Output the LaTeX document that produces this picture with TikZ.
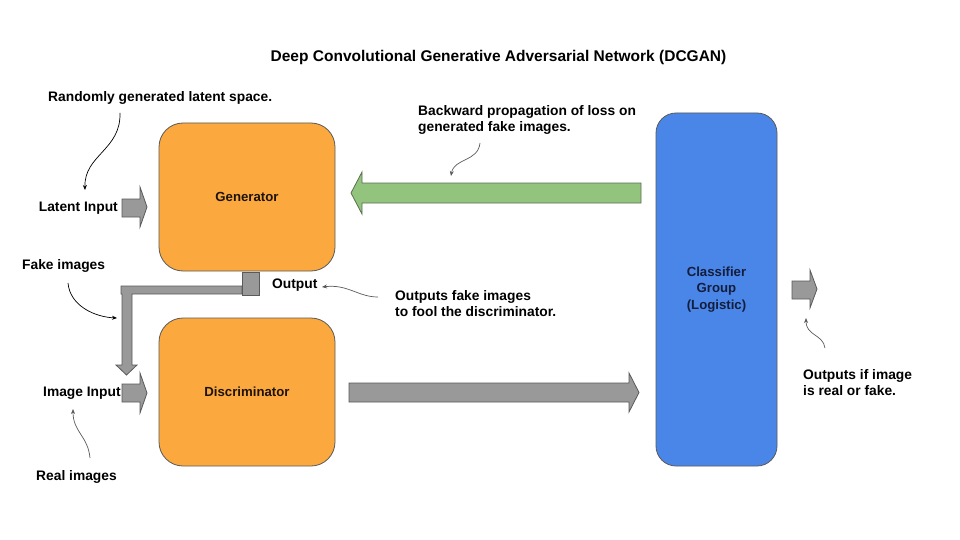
\documentclass[tikz,border=0pt]{standalone}
\usepackage{fontspec}
\setmainfont{Liberation Sans}
\usetikzlibrary{arrows.meta}
\definecolor{boxorange}{RGB}{251,169,62}
\definecolor{boxblue}{RGB}{74,134,232}
\definecolor{edgegray}{RGB}{90,90,90}
\definecolor{arrowgray}{RGB}{153,153,153}
\definecolor{arrowgreen}{RGB}{147,196,125}
\definecolor{greenedge}{RGB}{90,110,80}
\definecolor{navytext}{RGB}{20,30,60}
\tikzset{
  lbl/.style={font=\fontsize{13.8}{16}\selectfont\bfseries, inner sep=0pt, anchor=west, align=left},
  blockbox/.style={draw=edgegray, line width=0.8pt, rounded corners=24pt, fill=boxorange, inner sep=0pt,
    font=\fontsize{13.2}{16.5}\selectfont\bfseries, text=black!85!brown},
  graybar/.style={draw=edgegray, line width=0.8pt, fill=arrowgray},
  greenbar/.style={draw=greenedge, line width=0.8pt, fill=arrowgreen},
  notearrow/.style={line width=0.7pt, -{Stealth[length=5pt,width=4pt]}},
  graynote/.style={notearrow, draw=edgegray},
}
\begin{document}
\begin{tikzpicture}[x=1pt,y=-1pt]
\useasboundingbox (0,0) rectangle (960,540);
\fill[white] (0,0) rectangle (960,540);

% title
\node[font=\fontsize{15.5}{18}\selectfont\bfseries, inner sep=0pt] (title) at (498.5,57) {Deep Convolutional Generative Adversarial Network (DCGAN)};

% main boxes
\node[blockbox, minimum width=176pt, minimum height=148pt] (gen) at (247,197) {Generator};
\node[blockbox, minimum width=176pt, minimum height=148pt] (disc) at (247,392) {Discriminator};
\node[blockbox, fill=boxblue, rounded corners=20pt, minimum width=121pt, minimum height=353pt, text=navytext, align=center] (cls) at (716.5,289.5) {Classifier\\Group\\(Logistic)};

% labels
\node[lbl] (rand) at (48,98) {Randomly generated latent space.};
\node[lbl, anchor=east] (latent) at (118,208) {Latent Input};
\node[lbl] (fake) at (22,266) {Fake images};
\node[lbl] (imgin) at (43,393) {Image Input};
\node[lbl] (real) at (36,477) {Real images};
\node[lbl] (outlbl) at (272,285) {Output};
\node[lbl] (fool) at (395,304) {Outputs fake images\\to fool the discriminator.};
\node[lbl] (back) at (418,120) {Backward propagation of loss on\\generated fake images.};
\node[lbl] (realfake) at (803,383) {Outputs if image\\is real or fake.};

% block arrows
% latent input arrow
\draw[graybar] (122,199) -- (140,199) -- (140,187) -- (147,207) -- (140,227) -- (140,217) -- (122,217) -- cycle;
% image input arrow
\draw[graybar] (122,384) -- (140,384) -- (140,373) -- (147,393) -- (140,413) -- (140,402) -- (122,402) -- cycle;
% generator output to image input (L-shaped)
\draw[graybar] (121,286) -- (242,286) -- (242,294) -- (132,294) -- (132,365) -- (137,365) -- (126.5,375) -- (116,365) -- (122,365) -- (122,294) -- (121,294) -- cycle;
\draw[graybar] (242,272) rectangle (259,295);
% discriminator to classifier
\draw[graybar] (349,383) -- (629,383) -- (629,373) -- (639,392.5) -- (629,412) -- (629,402) -- (349,402) -- cycle;
% backward propagation (green)
\draw[greenbar] (641,183) -- (362,183) -- (362,172) -- (351,193) -- (362,214) -- (362,203) -- (641,203) -- cycle;
% classifier output
\draw[graybar] (792,281) -- (810,281) -- (810,270) -- (817,289) -- (810,308) -- (810,299) -- (792,299) -- cycle;

% annotation curves
\coordinate (randA) at (120,113);
\coordinate (randB) at (85,190);
\draw[notearrow] (randA) .. controls (121,150) and (84,155) .. (randB);
\coordinate (fakeA) at (68,283);
\coordinate (fakeB) at (117,318);
\draw[notearrow] (fakeA) .. controls (70,306) and (95,317) .. (fakeB);
\coordinate (realA) at (90,458);
\coordinate (realB) at (73,409);
\draw[graynote] (realA) .. controls (88,436) and (73,432) .. (realB);
\coordinate (foolA) at (378,297);
\coordinate (foolB) at (322,287);
\draw[graynote] (foolA) .. controls (358,297) and (348,284) .. (foolB);
\coordinate (backA) at (480,143);
\coordinate (backB) at (451,176);
\draw[graynote] (backA) .. controls (478,162) and (454,158) .. (backB);
\coordinate (rfA) at (825,348);
\coordinate (rfB) at (806,318);
\draw[graynote] (rfA) .. controls (823,334) and (806,336) .. (rfB);
\end{tikzpicture}
\end{document}
